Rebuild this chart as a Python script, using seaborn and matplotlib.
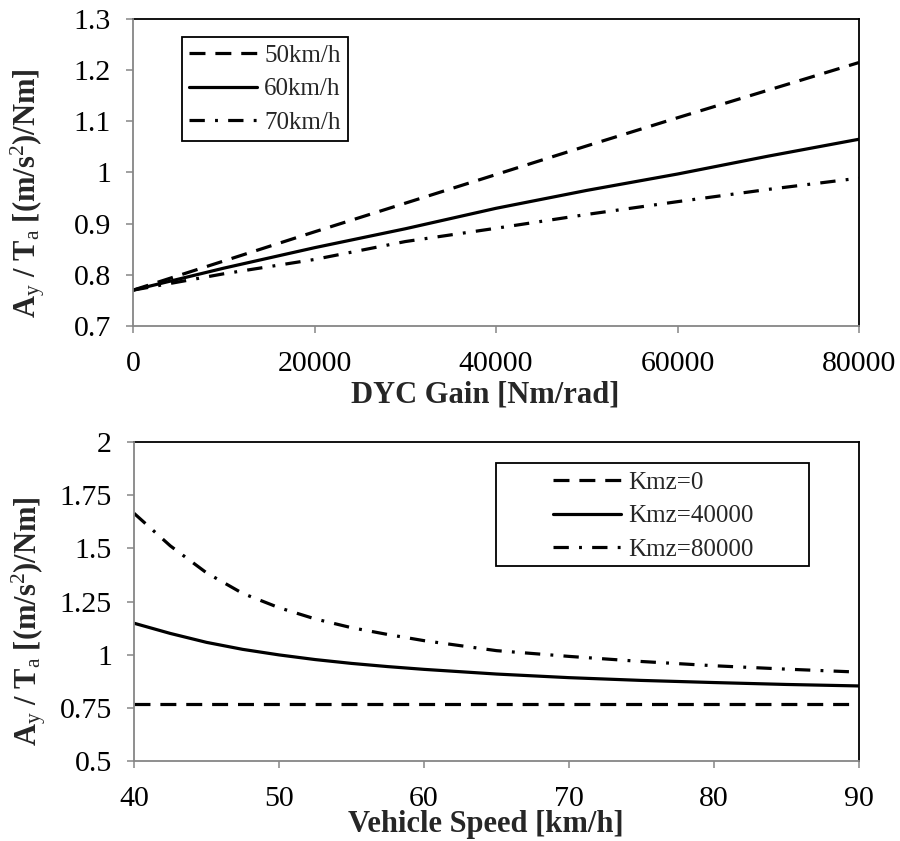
import matplotlib
matplotlib.use("Agg")
import matplotlib.pyplot as plt
import seaborn as sns
from matplotlib.ticker import FuncFormatter, MultipleLocator
from matplotlib.patches import Rectangle

# DYC gain sweep at three vehicle speeds
gain = [0, 10000, 20000, 30000, 40000, 50000, 60000, 70000, 80000]
ratio_50kmh = [0.770, 0.827, 0.884, 0.940, 0.996, 1.052, 1.107, 1.161, 1.215]
ratio_60kmh = [0.770, 0.813, 0.853, 0.890, 0.930, 0.965, 0.997, 1.032, 1.065]
ratio_70kmh = [0.770, 0.802, 0.830, 0.865, 0.891, 0.918, 0.943, 0.967, 0.989]
speed_labels = ["50km/h", "60km/h", "70km/h"]

# Vehicle speed sweep at three DYC gains
speed = [40, 42.5, 45, 47.5, 50, 52.5, 55, 57.5, 60, 65, 70, 75, 80, 85, 90]
ratio_k0 = [0.77, 0.77, 0.77, 0.77, 0.77, 0.77, 0.77, 0.77, 0.77, 0.77, 0.77, 0.77, 0.77, 0.77, 0.77]
ratio_k40000 = [1.148, 1.100, 1.058, 1.025, 0.999, 0.977, 0.959, 0.944, 0.931,
                0.909, 0.892, 0.879, 0.869, 0.860, 0.853]
ratio_k80000 = [1.665, 1.512, 1.385, 1.288, 1.221, 1.168, 1.127, 1.095, 1.066,
                1.019, 0.992, 0.968, 0.948, 0.932, 0.918]
gain_labels = ["Kmz=0", "Kmz=40000", "Kmz=80000"]

sns.set_theme(style="white")
plt.rcParams["font.family"] = ["Liberation Serif", "DejaVu Serif"]
plt.rcParams["mathtext.fontset"] = "custom"
plt.rcParams["mathtext.rm"] = "Liberation Serif"
plt.rcParams["mathtext.bf"] = "Liberation Serif:bold"
plt.rcParams["mathtext.it"] = "Liberation Serif:italic"

LW = 2.3
DASHED = (0, (5.0, 3.1))
SOLID = "-"
DASHDOT = (0, (4.8, 3.2, 0.9, 3.2))
GRAY = "#868686"
TICK_FS = 21.5
LABEL_FS = 22
LEGEND_FS = 18

fig = plt.figure(figsize=(9, 8.41), dpi=100)
ax1 = fig.add_axes([0.1478, 0.6124, 0.8067, 0.3650])
ax2 = fig.add_axes([0.1489, 0.0951, 0.8056, 0.3793])


def draw(ax, x, y, style):
    sns.lineplot(x=x, y=y, ax=ax, color="black", linewidth=LW,
                 linestyle=style, errorbar=None, sort=False, legend=False)


def style_axes(ax):
    for s in ["left", "bottom"]:
        ax.spines[s].set_color(GRAY)
        ax.spines[s].set_linewidth(1.3)
    for s in ["top", "right"]:
        ax.spines[s].set_visible(True)
        ax.spines[s].set_color("black")
        ax.spines[s].set_linewidth(1.3)
    ax.spines["left"].set_zorder(3)
    ax.spines["bottom"].set_zorder(3)
    ax.tick_params(axis="both", which="major", direction="out", length=5,
                   width=1.1, color=GRAY, labelsize=TICK_FS, labelcolor="black",
                   bottom=True, left=True, top=False, right=False)
    ax.tick_params(axis="y", pad=11)
    ax.tick_params(axis="x", pad=13)
    ax.grid(False)
    ax.yaxis.set_major_formatter(FuncFormatter(lambda v, p: f"{v:g}"))
    ax.xaxis.set_major_formatter(FuncFormatter(lambda v, p: f"{v:g}"))


ylab = r"A$_\mathrm{y}$ / T$_\mathrm{a}$ [(m/s$^\mathrm{2}$)/Nm]"

# Upper panel
for vals, ls in zip([ratio_50kmh, ratio_60kmh, ratio_70kmh], [DASHED, SOLID, DASHDOT]):
    draw(ax1, gain, vals, ls)
ax1.set_xlim(0, 80000)
ax1.set_ylim(0.7, 1.3)
ax1.xaxis.set_major_locator(MultipleLocator(20000))
ax1.yaxis.set_major_locator(MultipleLocator(0.1))
style_axes(ax1)
ax1.set_xlabel("DYC Gain [Nm/rad]", fontsize=LABEL_FS, fontweight="bold")
ax1.set_ylabel(ylab, fontsize=LABEL_FS, fontweight="bold")
ax1.xaxis.set_label_coords(0.485, -0.178)
ax1.yaxis.set_label_coords(-0.118, 0.433)
leg1 = ax1.legend(ax1.get_lines()[:3], speed_labels, loc="upper left",
                  bbox_to_anchor=(0.0675, 0.941), borderaxespad=0, frameon=True,
                  fancybox=False, framealpha=1, edgecolor="black",
                  fontsize=LEGEND_FS, handlelength=2.7, handletextpad=0.3,
                  labelspacing=0.45, borderpad=0.28)
leg1.get_frame().set_linewidth(1.3)

# Lower panel
for vals, ls in zip([ratio_k0, ratio_k40000, ratio_k80000], [DASHED, SOLID, DASHDOT]):
    draw(ax2, speed, vals, ls)
ax2.set_xlim(40, 90)
ax2.set_ylim(0.5, 2.0)
ax2.xaxis.set_major_locator(MultipleLocator(10))
ax2.yaxis.set_major_locator(MultipleLocator(0.25))
style_axes(ax2)
ax2.set_xlabel("Vehicle Speed [km/h]", fontsize=LABEL_FS, fontweight="bold")
ax2.set_ylabel(ylab, fontsize=LABEL_FS, fontweight="bold")
ax2.xaxis.set_label_coords(0.485, -0.155)
ax2.yaxis.set_label_coords(-0.118, 0.439)
ax2.legend(ax2.get_lines()[:3], gain_labels, loc="upper left",
           bbox_to_anchor=(0.578, 0.909), borderaxespad=0, frameon=False,
           fontsize=LEGEND_FS, handlelength=2.7, handletextpad=0.3,
           labelspacing=0.45, borderpad=0)
ax2.add_patch(Rectangle((0.499, 0.611), 0.432, 0.323, transform=ax2.transAxes,
                        fill=False, edgecolor="black", linewidth=1.3, zorder=4))

fig.savefig("out.png", dpi=100)
